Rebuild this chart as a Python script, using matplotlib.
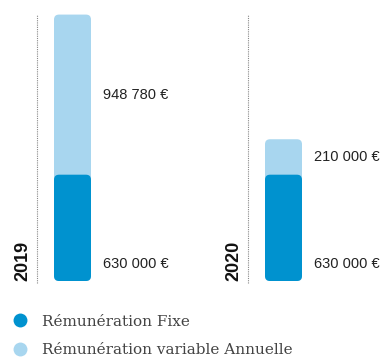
import matplotlib.pyplot as plt
from matplotlib.patches import FancyBboxPatch
from matplotlib.lines import Line2D

# données de rémunération (en euros)
annees = ['2019', '2020']
fixe = [630000, 630000]
variable = [948780, 210000]
labels_fixe = ['630 000 €', '630 000 €']
labels_variable = ['948 780 €', '210 000 €']

bleu_fonce = '#0092cf'
bleu_clair = '#a8d6ef'

fig = plt.figure(figsize=(3.87, 3.58), dpi=100)
ax = fig.add_axes([0, 77 / 358, 1, 270 / 358])
ax.set_xlim(-72.5 / 211, (387 - 72.5) / 211)
ax.set_ylim(0, 1.6e6)
ax.axis('off')

# rapport d'échelle y/x pour arrondir les coins correctement
eur_par_px = 1.6e6 / 270
aspect = eur_par_px * 211
largeur = 37 / 211
rayon = 5 / 211

for i, an in enumerate(annees):
    total = fixe[i] + variable[i]
    # barre claire (totale) puis barre foncée par-dessus
    for h, c in [(total, bleu_clair), (fixe[i], bleu_fonce)]:
        p = FancyBboxPatch((i - largeur / 2, 0), largeur, h,
                           boxstyle=f'round,pad=0,rounding_size={rayon}',
                           mutation_aspect=aspect, fc=c, ec='none')
        ax.add_patch(p)

    # ligne pointillée verticale
    xl = i - 35.5 / 211
    ax.plot([xl, xl], [-2 * eur_par_px, 266 * eur_par_px], ls=(0, (1, 1)),
            color='#888888', lw=0.8, clip_on=False)

    # année
    ax.text(i - 50 / 211, 0, an, rotation=90, ha='center', va='bottom',
            fontsize=13, fontweight='heavy', family='Liberation Sans', color='#111111')

    # étiquettes des valeurs
    ax.annotate(labels_fixe[i], (i + 30.5 / 211, 0), xytext=(0, 12.5),
                textcoords='offset points', ha='left', va='center',
                fontsize=10.5, family='Liberation Sans', color='#222222')
    ax.annotate(labels_variable[i], (i + 30.5 / 211, fixe[i] + variable[i] / 2),
                ha='left', va='center',
                fontsize=10.5, family='Liberation Sans', color='#222222')

handles = [Line2D([], [], ls='none', marker='o', ms=10, mfc=bleu_fonce, mec='none'),
           Line2D([], [], ls='none', marker='o', ms=10, mfc=bleu_clair, mec='none')]
fig.legend(handles, ['Rémunération Fixe', 'Rémunération variable Annuelle'],
           loc='upper left', bbox_to_anchor=(3 / 387, 1 - 307 / 358), frameon=False,
           handlelength=1.2, handletextpad=0.85, labelspacing=0.95, borderpad=0,
           prop={'family': 'DejaVu Serif', 'size': 11}, labelcolor='#444444')

fig.savefig('out.png', dpi=100)
